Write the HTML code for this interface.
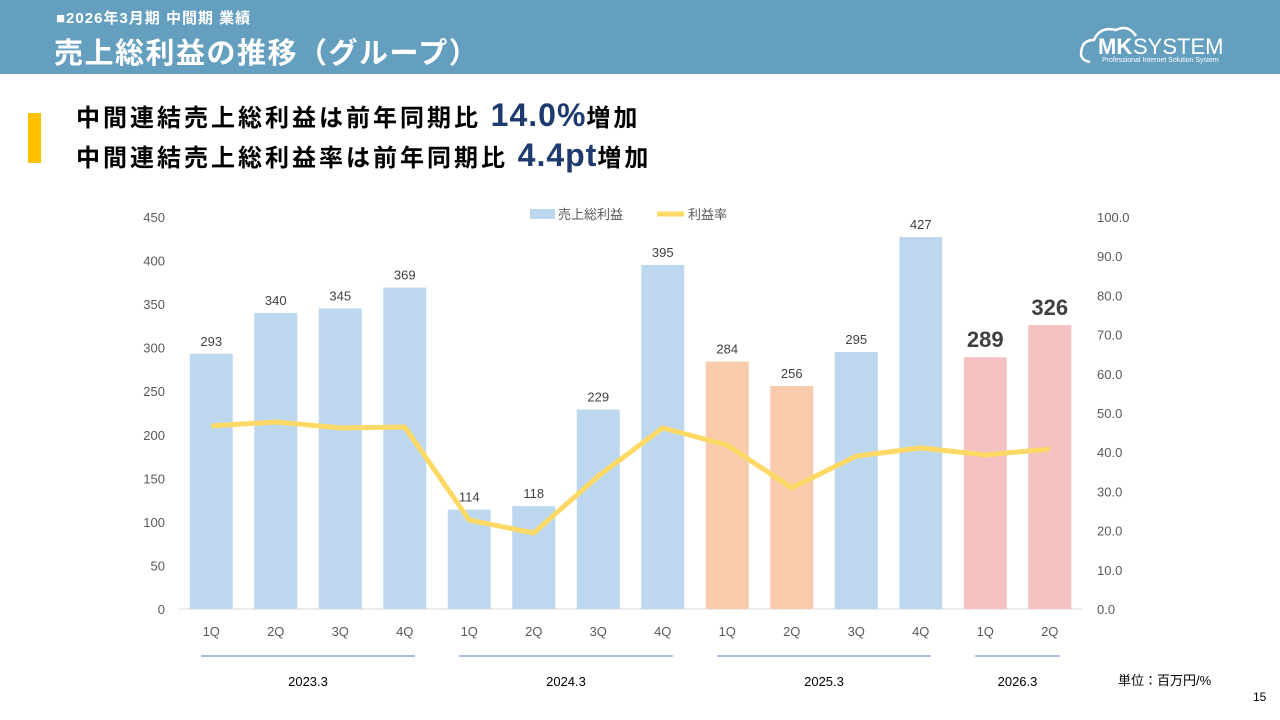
<!DOCTYPE html>
<html><head><meta charset="utf-8">
<style>
body{margin:0;width:1280px;height:720px;overflow:hidden;background:#fff;font-family:"Liberation Sans","Noto Sans CJK JP",sans-serif;position:relative}
.hdr{position:absolute;left:0;top:0;width:1280px;height:74px;background:#659fbf}
.sub{position:absolute;left:56px;top:7px;color:#fff;font-size:15px;font-weight:bold;letter-spacing:1px}
.ttl{position:absolute;left:54px;top:30px;color:#fff;font-size:29px;font-weight:bold;letter-spacing:1.5px}
.logo{position:absolute;left:1078px;top:24px;color:#fff}
.bar{position:absolute;left:28px;top:113px;width:13px;height:50px;background:#ffc000}
.msg{position:absolute;left:76px;font-size:24px;font-weight:bold;color:#000;letter-spacing:3px}
.msg b{color:#1f3a6e;font-size:32px;font-family:"Liberation Sans",sans-serif;letter-spacing:1px}
</style></head><body>
<div class="hdr"></div>
<div class="sub">■2026年3月期 中間期 業績</div>
<div class="ttl">売上総利益の推移（グループ）</div>
<div class="logo">
<svg width="160" height="42"><path d="M12 38 Q0 36 4 24 Q6 16 16 16 Q22 2 38 6 Q50 0 58 12" fill="none" stroke="#fff" stroke-width="2.5"/>
<text x="20" y="30" fill="#fff" font-size="22" font-weight="bold" font-family="Liberation Sans">MK</text><text x="55" y="30" fill="#fff" font-size="22" font-family="Liberation Sans">SYSTEM</text>
<text x="24" y="38" fill="#fff" font-size="7" font-family="Liberation Sans">Professional Internet Solution System</text></svg></div>
<div class="bar"></div>
<div class="msg" style="top:97px">中間連結売上総利益は前年同期比 <b>14.0%</b>増加</div>
<div class="msg" style="top:137px">中間連結売上総利益率は前年同期比 <b>4.4pt</b>増加</div>
<svg id="chart" width="1280" height="720" style="position:absolute;left:0;top:0"></svg>
<div style="position:absolute;left:1118px;top:670px;font-size:13px">単位：百万円/%</div>
<div style="position:absolute;left:1253px;top:690px;font-size:12px">15</div>
<script>
const quarters=["1Q","2Q","3Q","4Q","1Q","2Q","3Q","4Q","1Q","2Q","3Q","4Q","1Q","2Q"];
const profit=[293,340,345,369,114,118,229,395,284,256,295,427,289,326];
const margin=[46.7,47.7,46.2,46.4,22.7,19.4,33.9,46.2,41.8,30.9,39.0,41.1,39.3,40.8];
const years=["2023.3","2024.3","2025.3","2026.3"];
const yearSpans=[[0,3],[4,7],[8,11],[12,13]];
const leftTicks=[0,50,100,150,200,250,300,350,400,450];
const rightTicks=[0,10,20,30,40,50,60,70,80,90,100];
const svg=document.getElementById('chart');const NS="http://www.w3.org/2000/svg";
const x0=179,x1=1082,y0=609,yTop=217;
const xs=i=>x0+(x1-x0)/quarters.length*(i+0.5);
const yl=v=>y0-(y0-yTop)*v/450;
const yr=v=>y0-(y0-yTop)*v/100;
function mk(t,a,txt){const e=document.createElementNS(NS,t);for(const k in a)e.setAttribute(k,a[k]);if(txt!==undefined)e.textContent=txt;svg.appendChild(e);return e;}
const F='"Liberation Sans","Noto Sans CJK JP",sans-serif';
leftTicks.forEach(v=>{const e=mk('text',{x:165,y:yl(v)+5,'text-anchor':'end','font-size':13,fill:'#595959','font-family':F},v);
});
rightTicks.forEach(v=>{const e=mk('text',{x:1097,y:yr(v)+5,'font-size':13,fill:'#595959','font-family':F},v.toFixed(1));
});
const ax=mk('line',{x1:x0,x2:x1,y1:y0,y2:y0,stroke:'#d9d9d9'});

profit.forEach((v,i)=>{const c=i>=12?'#f4c2c0':(i>=8&&i<=9?'#f8cbad':'#bdd7ee');
const r=mk('rect',{x:xs(i)-21.5,y:yl(v),width:43,height:y0-yl(v),fill:c});

const big=i>=12;const t=mk('text',{x:xs(i),y:yl(v)-(big?10:8),'text-anchor':'middle','font-size':big?22:13,'font-weight':big?'bold':'normal',fill:'#404040','font-family':F},v);

const q=mk('text',{x:xs(i),y:636,'text-anchor':'middle','font-size':13,fill:'#595959','font-family':F},quarters[i]);
});
const ln=mk('polyline',{points:margin.map((v,i)=>xs(i)+','+yr(v)).join(' '),fill:'none',stroke:'#ffd966','stroke-width':5,'stroke-linejoin':'round'});

yearSpans.forEach((s,k)=>{const a=xs(s[0])-10,b=xs(s[1])+10;
const l=mk('line',{x1:a,x2:b,y1:656,y2:656,stroke:'#8faadc','stroke-width':1.5});

const t=mk('text',{x:(a+b)/2,y:686,'text-anchor':'middle','font-size':13,fill:'#000','font-family':F},years[k]);
});
const lg1=mk('rect',{x:530,y:209,width:25,height:10,fill:'#bdd7ee'});

const lt1=mk('text',{x:558,y:219,'font-size':13,fill:'#595959','font-family':F},'売上総利益');

const lg2=mk('line',{x1:657,x2:684,y1:214,y2:214,stroke:'#ffd966','stroke-width':5});

const lt2=mk('text',{x:688,y:219,'font-size':13,fill:'#595959','font-family':F},'利益率');

</script>
</body></html>
